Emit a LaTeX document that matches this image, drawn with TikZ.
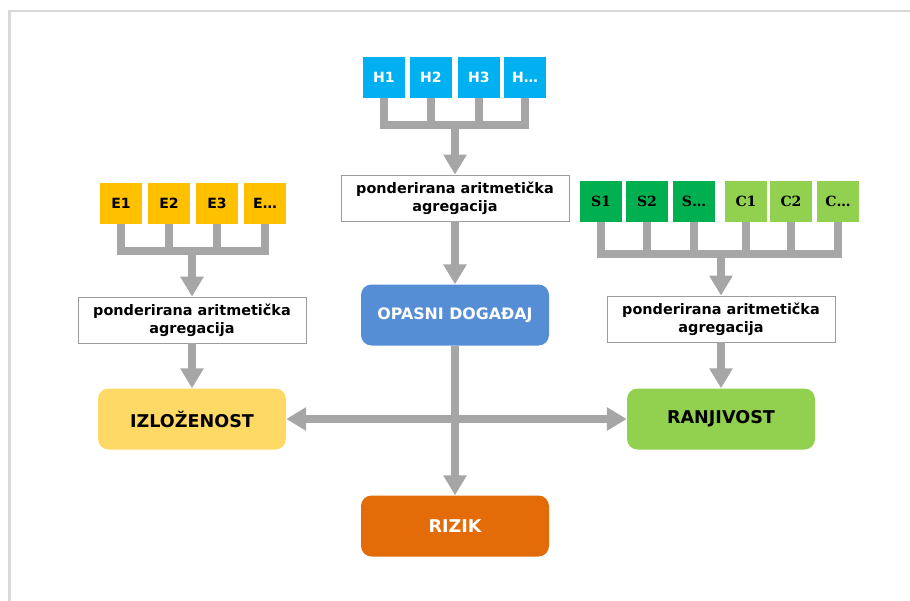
\documentclass[tikz,border=0pt]{standalone}
\usepackage{fontspec}
\setmainfont{DejaVu Sans}
\newfontfamily\boxserif{DejaVu Serif}
\usetikzlibrary{arrows.meta, positioning}
\definecolor{ppHazF}{HTML}{00B0F0}
\definecolor{ppExpF}{HTML}{FFC000}
\definecolor{ppSusF}{HTML}{00B050}
\definecolor{ppCapF}{HTML}{92D050}
\definecolor{ppEventF}{HTML}{558ED5}
\definecolor{ppRiskF}{HTML}{E36C09}
\definecolor{ppIzlF}{HTML}{FFD966}
\definecolor{ppPipe}{HTML}{A6A6A6}
\definecolor{ppAggS}{HTML}{9C9C9C}
\definecolor{ppFrame}{HTML}{D9D9D9}
\tikzset{
  >={Triangle[length=17pt, width=19pt]},
  ind/.style={minimum width=1.26cm, minimum height=1.23cm, inner sep=0pt,
    font=\bfseries\fontsize{12}{14}\selectfont},
  hind/.style={ind, fill=ppHazF, text=white},
  eind/.style={ind, fill=ppExpF},
  sind/.style={ind, fill=ppSusF, font=\boxserif\bfseries\fontsize{12}{14}\selectfont},
  cind/.style={ind, fill=ppCapF, font=\boxserif\bfseries\fontsize{12}{14}\selectfont},
  agg/.style={draw=ppAggS, line width=0.8pt, fill=white, align=center,
    minimum width=6.84cm, minimum height=1.38cm, inner sep=1pt,
    font=\bfseries\fontsize{12.3}{15}\selectfont},
  comp/.style={rounded corners=9pt, minimum width=5.64cm, minimum height=1.83cm,
    align=center, font=\bfseries\fontsize{15}{18}\selectfont},
  pipe/.style={draw=ppPipe, line width=6pt},
}

\begin{document}
\begin{tikzpicture}

  \useasboundingbox (0,0) rectangle (27.3,-18);
  \draw[ppFrame, line width=2.5pt] (0.29,-18.2) |- (27.5,-0.33);

  % ---- Hazard indicators ---------------------------------------------------
  \node[hind] (h1) at (11.52,-2.31) {H1};
  \node[hind] (h2) at (12.93,-2.31) {H2};
  \node[hind] (h3) at (14.37,-2.31) {H3};
  \node[hind] (hn) at (15.75,-2.31) {H\dots};
  \coordinate (hjoin) at (13.65,-3.75);
  \node[agg] (aggh) at (13.65,-5.94) {ponderirana aritmetička\\agregacija};
  \node[comp, fill=ppEventF, text=white, font=\bfseries\fontsize{13.5}{16}\selectfont]
        (event) at (13.65,-9.45) {OPASNI DOGAĐAJ};

  \draw[pipe] (h1.south) |- (hjoin) -| (hn.south);
  \draw[pipe] (h2.south) -- (h2.south |- hjoin);
  \draw[pipe] (h3.south) -- (h3.south |- hjoin);
  \draw[pipe, ->] (hjoin) -- (aggh.north);
  \draw[pipe, ->] (aggh.south) -- (event.north);

  % ---- Exposure indicators -------------------------------------------------
  \node[eind] (e1) at (3.63,-6.09) {E1};
  \node[eind] (e2) at (5.07,-6.09) {E2};
  \node[eind] (e3) at (6.51,-6.09) {E3};
  \node[eind] (en) at (7.95,-6.09) {E\dots};
  \coordinate (ejoin) at (5.76,-7.53);
  \node[agg] (agge) at (5.76,-9.6) {ponderirana aritmetička\\agregacija};
  \node[comp, fill=ppIzlF] (izl) at (5.76,-12.57) {IZLOŽENOST};

  \draw[pipe] (e1.south) |- (ejoin) -| (en.south);
  \draw[pipe] (e2.south) -- (e2.south |- ejoin);
  \draw[pipe] (e3.south) -- (e3.south |- ejoin);
  \draw[pipe, ->] (ejoin) -- (agge.north);
  \draw[pipe, ->] (agge.south) -- (izl.north);

  % ---- Susceptibility / capacity indicators --------------------------------
  \node[sind] (s1) at (18.03,-6.05) {S1};
  \node[sind] (s2) at (19.41,-6.05) {S2};
  \node[sind] (sn) at (20.82,-6.05) {S\dots};
  \node[cind] (c1) at (22.38,-6.05) {C1};
  \node[cind] (c2) at (23.73,-6.05) {C2};
  \node[cind] (cn) at (25.14,-6.05) {C\dots};
  \coordinate (vjoin) at (21.63,-7.62);
  \node[agg] (aggv) at (21.63,-9.57) {ponderirana aritmetička\\agregacija};
  \node[comp, fill=ppCapF] (ranj) at (21.63,-12.57) {RANJIVOST};

  \draw[pipe] (s1.south) |- (vjoin) -| (cn.south);
  \foreach \n in {s2, sn, c1, c2}
    \draw[pipe] (\n.south) -- (\n.south |- vjoin);
  \draw[pipe, ->] (vjoin) -- (aggv.north);
  \draw[pipe, ->] (aggv.south) -- (ranj.north);

  % ---- Risk ----------------------------------------------------------------
  \node[comp, fill=ppRiskF, text=white] (rizik) at (13.65,-15.78) {RIZIK};

  \draw[pipe, ->] (event) -- (rizik);
  \draw[pipe, <->] (izl) -- (ranj);

\end{tikzpicture}
\end{document}
